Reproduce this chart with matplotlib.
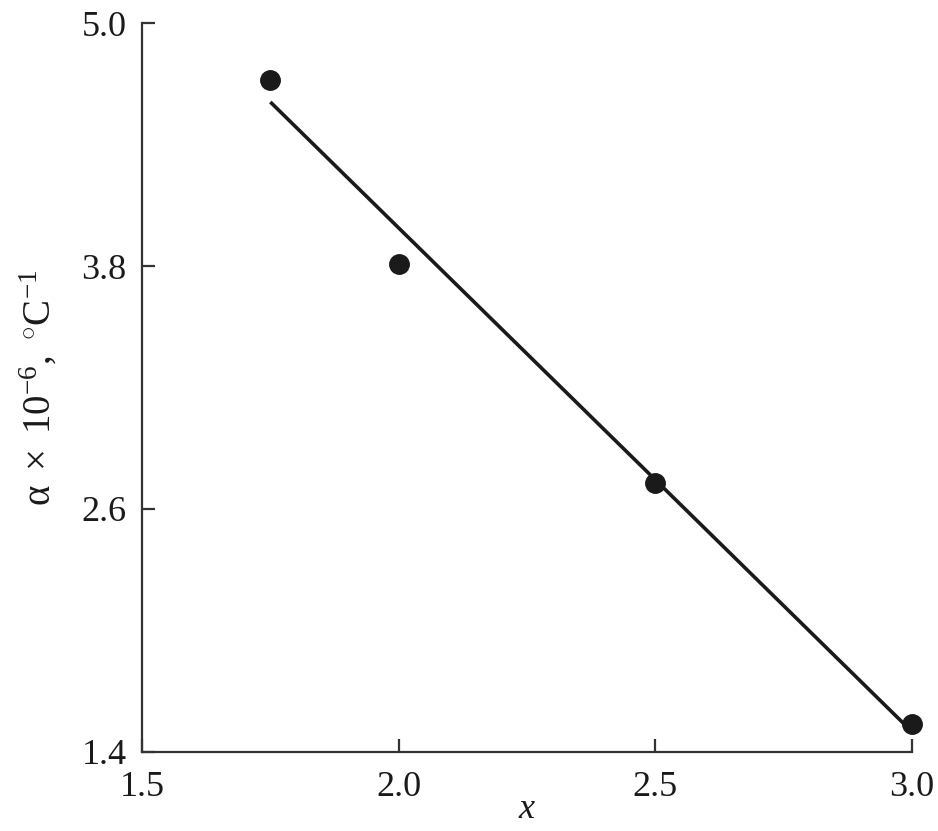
import matplotlib
matplotlib.use("Agg")
import matplotlib.pyplot as plt

plt.rcParams['font.family'] = ['Liberation Serif', 'DejaVu Serif']
plt.rcParams['mathtext.fontset'] = 'custom'
plt.rcParams['mathtext.rm'] = 'Liberation Serif'
plt.rcParams['mathtext.it'] = 'Liberation Serif:italic'

x_points = [1.75, 2.0, 2.5, 3.0]
alpha_points = [4.72, 3.81, 2.73, 1.54]
fit_x = [1.75, 3.0]
fit_y = [4.61, 1.50]
x_ticks = [1.5, 2.0, 2.5, 3.0]
y_ticks = [1.4, 2.6, 3.8, 5.0]

fig = plt.figure(figsize=(9.38, 8.31), dpi=100)
ax = fig.add_axes([0.1514, 0.0951, 0.8209, 0.8772])

ax.plot(fit_x, fit_y, color='#1a1a1a', lw=2.6, solid_capstyle='butt', zorder=2)
ax.plot(x_points, alpha_points, 'o', color='#1a1a1a', ms=14, zorder=3, clip_on=False)

ax.set_xlim(1.5, 3.0)
ax.set_ylim(1.4, 5.0)
ax.set_xticks(x_ticks)
ax.set_yticks(y_ticks)
ax.set_xticklabels([f"{v:.1f}" for v in x_ticks])
ax.set_yticklabels([f"{v:.1f}" for v in y_ticks])

for s in ['top', 'right']:
    ax.spines[s].set_visible(False)
for s in ['left', 'bottom']:
    ax.spines[s].set_linewidth(1.6)
    ax.spines[s].set_color('#333333')

ax.tick_params(direction='in', length=9.5, width=1.6, color='#333333',
               labelsize=26, labelcolor='#1a1a1a')
ax.tick_params(axis='x', pad=14)
ax.tick_params(axis='y', pad=11)

ax.set_xlabel(r'$x$', fontsize=26, color='#1a1a1a', labelpad=-8)
ax.set_ylabel(r'$\mathrm{α\ \times\ 10^{-6},\ ^{\circ}C^{-1}}$', fontsize=28,
              color='#1a1a1a', labelpad=16)

fig.savefig('out.png', dpi=100, facecolor='white')
